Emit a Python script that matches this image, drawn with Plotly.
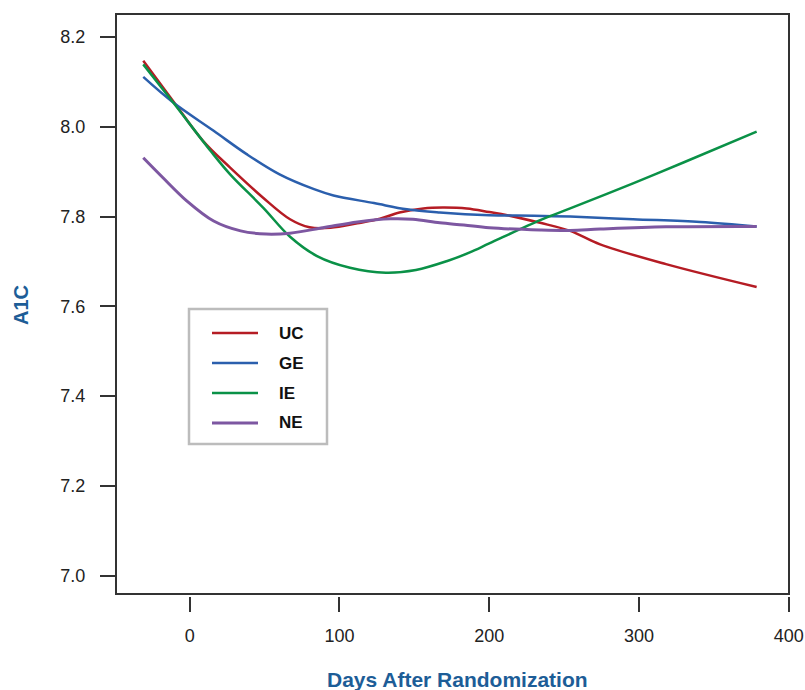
import plotly.graph_objects as go

# ---- data ----
uc_days = [-31, -11, 9, 27, 49, 67, 80, 94, 112, 127, 140, 156, 169, 185, 200, 212, 234, 254, 274,
           318, 378.5]
uc_vals = [8.147, 8.057, 7.968, 7.909, 7.842, 7.794, 7.776, 7.775, 7.785, 7.795, 7.809, 7.818, 7.820,
           7.818, 7.810, 7.803, 7.786, 7.768, 7.738, 7.694, 7.643]

ge_days = [-31, -11, 16, 38, 60, 83, 96, 123, 145, 167, 200, 230, 254, 296, 341, 378.5]
ge_vals = [8.111, 8.054, 7.991, 7.939, 7.894, 7.861, 7.847, 7.830, 7.816, 7.809, 7.803, 7.802,
           7.800, 7.794, 7.788, 7.778]

ie_days = [-31, -11, 14, 27, 49, 67, 85, 107, 131, 151, 172, 187, 200, 234, 254, 296, 330, 378.5]
ie_vals = [8.139, 8.054, 7.946, 7.894, 7.820, 7.755, 7.712, 7.686, 7.675, 7.681, 7.701, 7.720,
           7.740, 7.792, 7.818, 7.874, 7.921, 7.989]

ne_days = [-31, -18, -2, 16, 34, 51, 67, 89, 112, 134, 149, 167, 183, 200, 234, 254, 274, 318, 378.5]
ne_vals = [7.931, 7.887, 7.835, 7.790, 7.768, 7.761, 7.763, 7.775, 7.788, 7.795, 7.794, 7.786,
           7.781, 7.775, 7.770, 7.769, 7.772, 7.777, 7.778]

series_names = ["UC", "GE", "IE", "NE"]
series_colors = ["#b51c24", "#2b5fad", "#0a9147", "#7d57a1"]
series_widths = [2.5, 2.5, 2.5, 3]

x_ticks = [0, 100, 200, 300, 400]
y_ticks = [7.0, 7.2, 7.4, 7.6, 7.8, 8.0, 8.2]
y_tick_labels = ["7.0", "7.2", "7.4", "7.6", "7.8", "8.0", "8.2"]

x_title = "Days After Randomization"
y_title = "A1C"

# ---- layout geometry (window pixels) ----
W, H = 805, 690
PL, PR, PT, PB = 116, 789, 14, 596      # plot area in window pixels
L, R, T, B = PL, W - PR, PT, H - PB
pw, ph = W - L - R, H - T - B


def px(x):
    return (x - PL) / pw


def py(y):
    return (PB - y) / ph


fig = go.Figure()
data = [(uc_days, uc_vals), (ge_days, ge_vals), (ie_days, ie_vals), (ne_days, ne_vals)]
for (xs, ys), name, col, w in zip(data, series_names, series_colors, series_widths):
    fig.add_trace(go.Scatter(x=xs, y=ys, mode="lines", name=name,
                             line=dict(color=col, width=w, shape="spline", smoothing=1.0),
                             showlegend=False))

tick_font = dict(family="Liberation Sans, Arial, sans-serif", size=18, color="#222")
title_color = "#1d5d97"

fig.update_layout(
    width=W, height=H,
    margin=dict(l=L, r=R, t=T, b=B, pad=0, autoexpand=False),
    paper_bgcolor="white", plot_bgcolor="white",
    xaxis=dict(range=[-49.2, 400.1], tickvals=x_ticks, ticks="outside", ticklen=15,
               tickwidth=1.6, tickcolor="#333", showgrid=False, zeroline=False,
               showline=False, tickfont=tick_font, ticklabelstandoff=8, automargin=False),
    yaxis=dict(range=[6.9547, 8.2512], tickvals=y_ticks, ticktext=y_tick_labels,
               ticks="outside", ticklen=15, tickwidth=1.6, tickcolor="#333",
               showgrid=False, zeroline=False, showline=False, tickfont=tick_font,
               ticklabelstandoff=11, automargin=False),
    showlegend=False,
)

# plot box (slightly above the x ticks, as in the reference)
fig.add_shape(type="rect", xref="paper", yref="paper", x0=0, x1=1, y0=py(594), y1=1,
              line=dict(color="#333", width=2))

# axis titles
fig.add_annotation(text=f"<b>{x_title}</b>", xref="paper", yref="paper",
                   x=px(457), y=py(679), xanchor="center", yanchor="middle", showarrow=False,
                   font=dict(family="Liberation Sans Narrow, Liberation Sans, Arial", size=21,
                             color=title_color))
fig.add_annotation(text=f"<b>{y_title}</b>", xref="paper", yref="paper",
                   x=px(21), y=py(305), xanchor="center", yanchor="middle", showarrow=False,
                   textangle=-90,
                   font=dict(family="Liberation Sans, Arial", size=20, color=title_color))

# legend box drawn manually
fig.add_shape(type="rect", xref="paper", yref="paper", x0=px(189), x1=px(327),
              y0=py(444), y1=py(309), line=dict(color="#bcbcbc", width=2.5),
              fillcolor="white", layer="above")
row_y = [333, 363, 393, 423]
for name, col, w, ry in zip(series_names, series_colors, series_widths, row_y):
    fig.add_shape(type="line", xref="paper", yref="paper", x0=px(212), x1=px(258),
                  y0=py(ry), y1=py(ry), line=dict(color=col, width=w), layer="above")
    fig.add_annotation(text=f"<b>{name}</b>", xref="paper", yref="paper",
                       x=px(277), y=py(ry), xanchor="left", yanchor="middle",
                       showarrow=False,
                       font=dict(family="Liberation Sans, Arial", size=17, color="#111"))

fig.write_html("out.html",
               config={"displayModeBar": False},
               post_script="document.body.style.margin='0px';"
                           "document.body.style.overflow='hidden';")
